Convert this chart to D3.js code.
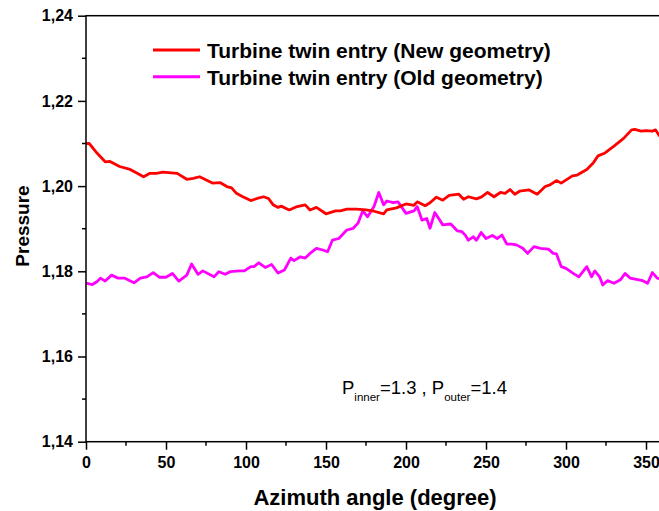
<!DOCTYPE html>
<html>
<head>
<meta charset="utf-8">
<script src="https://cdn.jsdelivr.net/npm/d3@7"></script>
<style>
  body { margin: 0; background: #fff; }
  svg { display: block; font-family: "Liberation Sans", Arial, sans-serif; }
</style>
</head>
<body>
<svg width="659" height="511"></svg>
<script>
// data
const newAngle = [0, 2, 7, 12, 15, 21, 27, 32, 36, 40, 44, 48, 57, 63, 67, 71, 79, 84, 88, 91, 94, 98, 103, 107, 111, 114, 117, 120, 122, 127, 132, 137, 140, 144, 150, 156, 159, 163, 169, 175, 180, 186, 188, 194, 200, 205, 207, 212, 215, 219, 223, 227, 233, 236, 239, 244, 247, 251, 255, 259, 262, 265, 268, 271, 277, 282, 287, 290, 294, 297, 304, 307, 313, 317, 320, 324, 330, 336, 341, 343, 347, 350, 354, 356, 358, 360];
const newPressure = [1.2100, 1.2100, 1.2077, 1.2057, 1.2058, 1.2046, 1.2040, 1.2030, 1.2022, 1.2030, 1.2030, 1.2033, 1.2030, 1.2016, 1.2018, 1.2022, 1.2007, 1.2008, 1.1999, 1.1996, 1.1983, 1.1975, 1.1966, 1.1971, 1.1975, 1.1971, 1.1956, 1.1950, 1.1953, 1.1944, 1.1952, 1.1956, 1.1944, 1.1950, 1.1935, 1.1942, 1.1942, 1.1946, 1.1946, 1.1944, 1.1941, 1.1935, 1.1944, 1.1949, 1.1958, 1.1955, 1.1963, 1.1954, 1.1961, 1.1974, 1.1967, 1.1978, 1.1981, 1.1969, 1.1975, 1.1970, 1.1974, 1.1985, 1.1975, 1.1985, 1.1983, 1.1992, 1.1981, 1.1988, 1.1991, 1.1981, 1.1999, 1.2003, 1.2013, 1.2007, 1.2024, 1.2026, 1.2039, 1.2054, 1.2071, 1.2077, 1.2094, 1.2112, 1.2132, 1.2133, 1.2129, 1.2130, 1.2129, 1.2132, 1.2120, 1.2112];

const oldAngle = [0, 4, 7, 9, 12, 16, 20, 24, 30, 34, 38, 42, 46, 50, 54, 58, 63, 66, 70, 73, 80, 83, 87, 90, 96, 99, 103, 105, 108, 112, 116, 120, 124, 128, 130, 134, 137, 140, 144, 148, 151, 154, 158, 163, 167, 170, 173, 176, 180, 183, 186, 188, 192, 195, 200, 205, 207, 210, 213, 215, 218, 223, 228, 232, 235, 237, 239, 242, 244, 247, 250, 254, 257, 260, 263, 266, 269, 273, 276, 280, 284, 289, 292, 294, 297, 300, 305, 308, 313, 316, 318, 321, 323, 326, 330, 334, 337, 340, 344, 348, 351, 354, 357, 360];
const oldPressure = [1.1772, 1.1769, 1.1776, 1.1784, 1.1777, 1.1791, 1.1784, 1.1784, 1.1773, 1.1784, 1.1787, 1.1797, 1.1786, 1.1786, 1.1795, 1.1777, 1.1791, 1.1817, 1.1793, 1.1801, 1.1787, 1.1799, 1.1793, 1.1799, 1.1801, 1.1801, 1.1811, 1.1811, 1.1820, 1.1809, 1.1816, 1.1796, 1.1803, 1.1831, 1.1825, 1.1834, 1.1831, 1.1842, 1.1854, 1.1850, 1.1846, 1.1873, 1.1877, 1.1897, 1.1901, 1.1913, 1.1942, 1.1928, 1.1952, 1.1985, 1.1956, 1.1965, 1.1961, 1.1963, 1.1936, 1.1942, 1.1952, 1.1920, 1.1924, 1.1901, 1.1938, 1.1909, 1.1911, 1.1895, 1.1893, 1.1885, 1.1873, 1.1881, 1.1873, 1.1891, 1.1877, 1.1884, 1.1877, 1.1885, 1.1864, 1.1864, 1.1862, 1.1854, 1.1842, 1.1858, 1.1854, 1.1852, 1.1842, 1.1841, 1.1811, 1.1807, 1.1794, 1.1787, 1.1811, 1.1787, 1.1801, 1.1787, 1.1768, 1.1778, 1.1772, 1.1780, 1.1795, 1.1784, 1.1781, 1.1778, 1.1772, 1.1797, 1.1784, 1.1781];

const xTicks = [0, 50, 100, 150, 200, 250, 300, 350];
const yTicks = [1.14, 1.16, 1.18, 1.20, 1.22, 1.24];
const seriesNames = ['Turbine twin entry (New geometry)', 'Turbine twin entry (Old geometry)'];
const seriesColors = ['#ff0000', '#ff00ff'];

const svg = d3.select('svg');

const plotLeft = 86, plotRight = 662, plotTop = 15.7, plotBottom = 441.7;

const x = d3.scaleLinear().domain([0, 360]).range([plotLeft, plotRight]);
const y = d3.scaleLinear().domain([1.14, 1.24]).range([plotBottom, plotTop]);

const line = d3.line()
    .x(d => x(d[0]))
    .y(d => y(d[1]));

const series = [
    d3.zip(newAngle, newPressure),
    d3.zip(oldAngle, oldPressure)
];

// lines, old first so the red one sits on top
svg.append('g')
    .selectAll('path')
    .data([1, 0])
    .join('path')
        .attr('d', i => line(series[i]))
        .attr('fill', 'none')
        .attr('stroke', i => seriesColors[i])
        .attr('stroke-width', 2.8)
        .attr('stroke-linejoin', 'round');

// frame
svg.append('rect')
    .attr('x', plotLeft)
    .attr('y', plotTop)
    .attr('width', plotRight - plotLeft)
    .attr('height', plotBottom - plotTop)
    .attr('fill', 'none')
    .attr('stroke', '#000')
    .attr('stroke-width', 1.5);

const tickFont = g => g.selectAll('text')
    .attr('font-size', 16)
    .attr('font-weight', 'bold')
    .attr('font-family', '"Liberation Sans", Arial, sans-serif')
    .attr('fill', '#000');

// x axis
const xAxis = svg.append('g')
    .attr('transform', `translate(0,${plotBottom})`)
    .call(d3.axisBottom(x).tickValues(xTicks).tickSize(8).tickSizeOuter(0).tickPadding(7));
xAxis.select('.domain').remove();
xAxis.selectAll('line').attr('stroke-width', 1.5);
xAxis.call(tickFont);

svg.append('g')
    .selectAll('line')
    .data(xTicks.map(d => d + 25))
    .join('line')
        .attr('x1', d => x(d)).attr('x2', d => x(d))
        .attr('y1', plotBottom).attr('y2', plotBottom + 4)
        .attr('stroke', '#000').attr('stroke-width', 1.5);

// y axis
const yAxis = svg.append('g')
    .attr('transform', `translate(${plotLeft},0)`)
    .call(d3.axisLeft(y).tickValues(yTicks).tickSize(8).tickSizeOuter(0).tickPadding(5)
        .tickFormat(d => d3.format('.2f')(d).replace('.', ',')));
yAxis.select('.domain').remove();
yAxis.selectAll('line').attr('stroke-width', 1.5);
yAxis.call(tickFont);

svg.append('g')
    .selectAll('line')
    .data(yTicks.slice(0, -1).map(d => d + 0.01))
    .join('line')
        .attr('x1', plotLeft - 4).attr('x2', plotLeft)
        .attr('y1', d => y(d)).attr('y2', d => y(d))
        .attr('stroke', '#000').attr('stroke-width', 1.5);

// axis titles
svg.append('text')
    .attr('x', 375)
    .attr('y', 505)
    .attr('text-anchor', 'middle')
    .attr('font-size', 22)
    .attr('font-weight', 'bold')
    .text('Azimuth angle (degree)');

svg.append('text')
    .attr('transform', 'translate(28.5,226) rotate(-90)')
    .attr('text-anchor', 'middle')
    .attr('font-size', 19)
    .attr('font-weight', 'bold')
    .text('Pressure');

// legend
const legend = svg.append('g');
seriesNames.forEach((name, i) => {
    const ly = 50 + i * 26.7;
    legend.append('line')
        .attr('x1', 153).attr('x2', 200)
        .attr('y1', ly).attr('y2', ly)
        .attr('stroke', seriesColors[i])
        .attr('stroke-width', 3);
    legend.append('text')
        .attr('x', 207)
        .attr('y', ly + 8)
        .attr('font-size', 21)
        .attr('font-weight', 'bold')
        .text(name);
});

// annotation
const note = svg.append('text')
    .attr('x', 342)
    .attr('y', 393.5)
    .attr('font-size', 18.5);
note.append('tspan').text('P');
note.append('tspan').attr('font-size', 11.5).attr('dy', 7).text('inner');
note.append('tspan').attr('dy', -7).text('=1.3 , P');
note.append('tspan').attr('font-size', 11.5).attr('dy', 7).text('outer');
note.append('tspan').attr('dy', -7).text('=1.4');
</script>
</body>
</html>
